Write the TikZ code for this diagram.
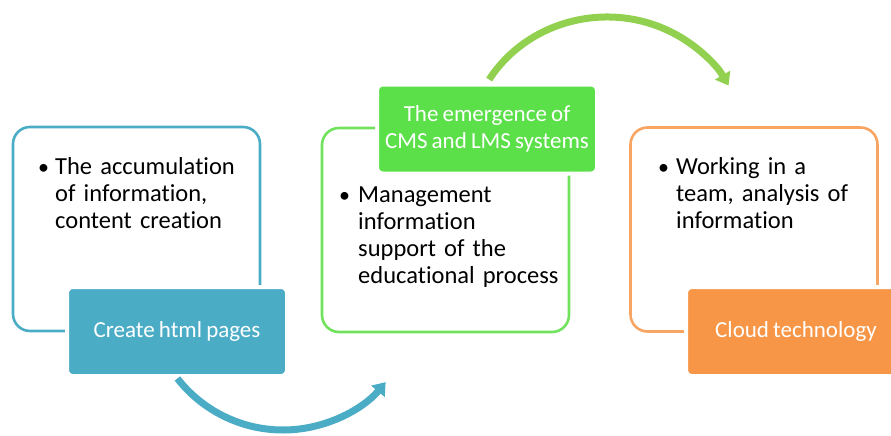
\documentclass[tikz,border=0pt]{standalone}
\usepackage{fontspec}
\setmainfont[WordSpace=0.8, Ligatures=NoCommon]{Carlito}
\usetikzlibrary{arrows.meta}
\definecolor{cblue}{RGB}{75,172,198}
\definecolor{cgreen}{RGB}{92,224,74}
\definecolor{cgreenline}{RGB}{112,226,92}
\definecolor{cgreenarrow}{RGB}{146,208,80}
\definecolor{corange}{RGB}{247,150,70}
\definecolor{corangeline}{RGB}{248,165,100}
\tikzset{
  outbox/.style={draw, line width=2.6pt, rounded corners=17pt, minimum width=247pt, minimum height=204pt, inner sep=0pt},
  labbox/.style={draw=white, line width=4pt, rounded corners=6pt, minimum width=220pt, minimum height=89pt, inner sep=0pt, text=white, align=center, font=\fontsize{23}{26.5}\selectfont},
  bultext/.style={anchor=base west, inner sep=0pt, text width=215pt, align=left, font=\fontsize{24.5}{27.3}\selectfont, text=black},
  bulmark/.style={anchor=base west, inner sep=0pt, font=\fontsize{22}{27}\selectfont, text=black},
  curvearrow/.style={line width=7pt, -{Triangle[length=12pt,width=17pt]}},
}
\begin{document}
\begin{tikzpicture}[x=1pt,y=-1pt]
\useasboundingbox (0,0) rectangle (891,436);
% outline boxes
\node[outbox, draw=cblue] (b1) at (136.5,229) {};
\node[outbox, draw=cgreenline] (b2) at (445.5,230) {};
\node[outbox, draw=corangeline] (b3) at (754,229.5) {};
% bullets
\node[bulmark] (m1) at (38,174) {\textbullet};
\node[bultext] (t1) at (55,174) {The accumulation\\of information,\\content creation};
\node[bulmark] (m2) at (339,202) {\textbullet};
\node[bultext] (t2) at (358,202) {Management\\information\\support of the\\educational process};
\node[bulmark] (m3) at (658,174) {\textbullet};
\node[bultext] (t3) at (676,174) {Working in a\\team, analysis of\\information};
% labels
\node[labbox, fill=cblue] (l1) at (177,331.5) {Create html pages};
\node[labbox, fill=cgreen] (l2) at (487,129) {The emergence of\\CMS and LMS systems};
\node[labbox, fill=corange] (l3) at (796,331.5) {Cloud technology};
% arrows
\coordinate (bc) at (283,296);
\coordinate (a1) at ([shift={(142:134)}]bc);
\draw[curvearrow, draw=cblue] (a1) arc[start angle=142, end angle=40, radius=134];
\coordinate (gc) at (607,150);
\coordinate (a2) at ([shift={(212:139 and 133)}]gc);
\draw[curvearrow, draw=cgreenarrow] (a2) arc[start angle=212, end angle=331, x radius=139, y radius=133];
\end{tikzpicture}
\end{document}
